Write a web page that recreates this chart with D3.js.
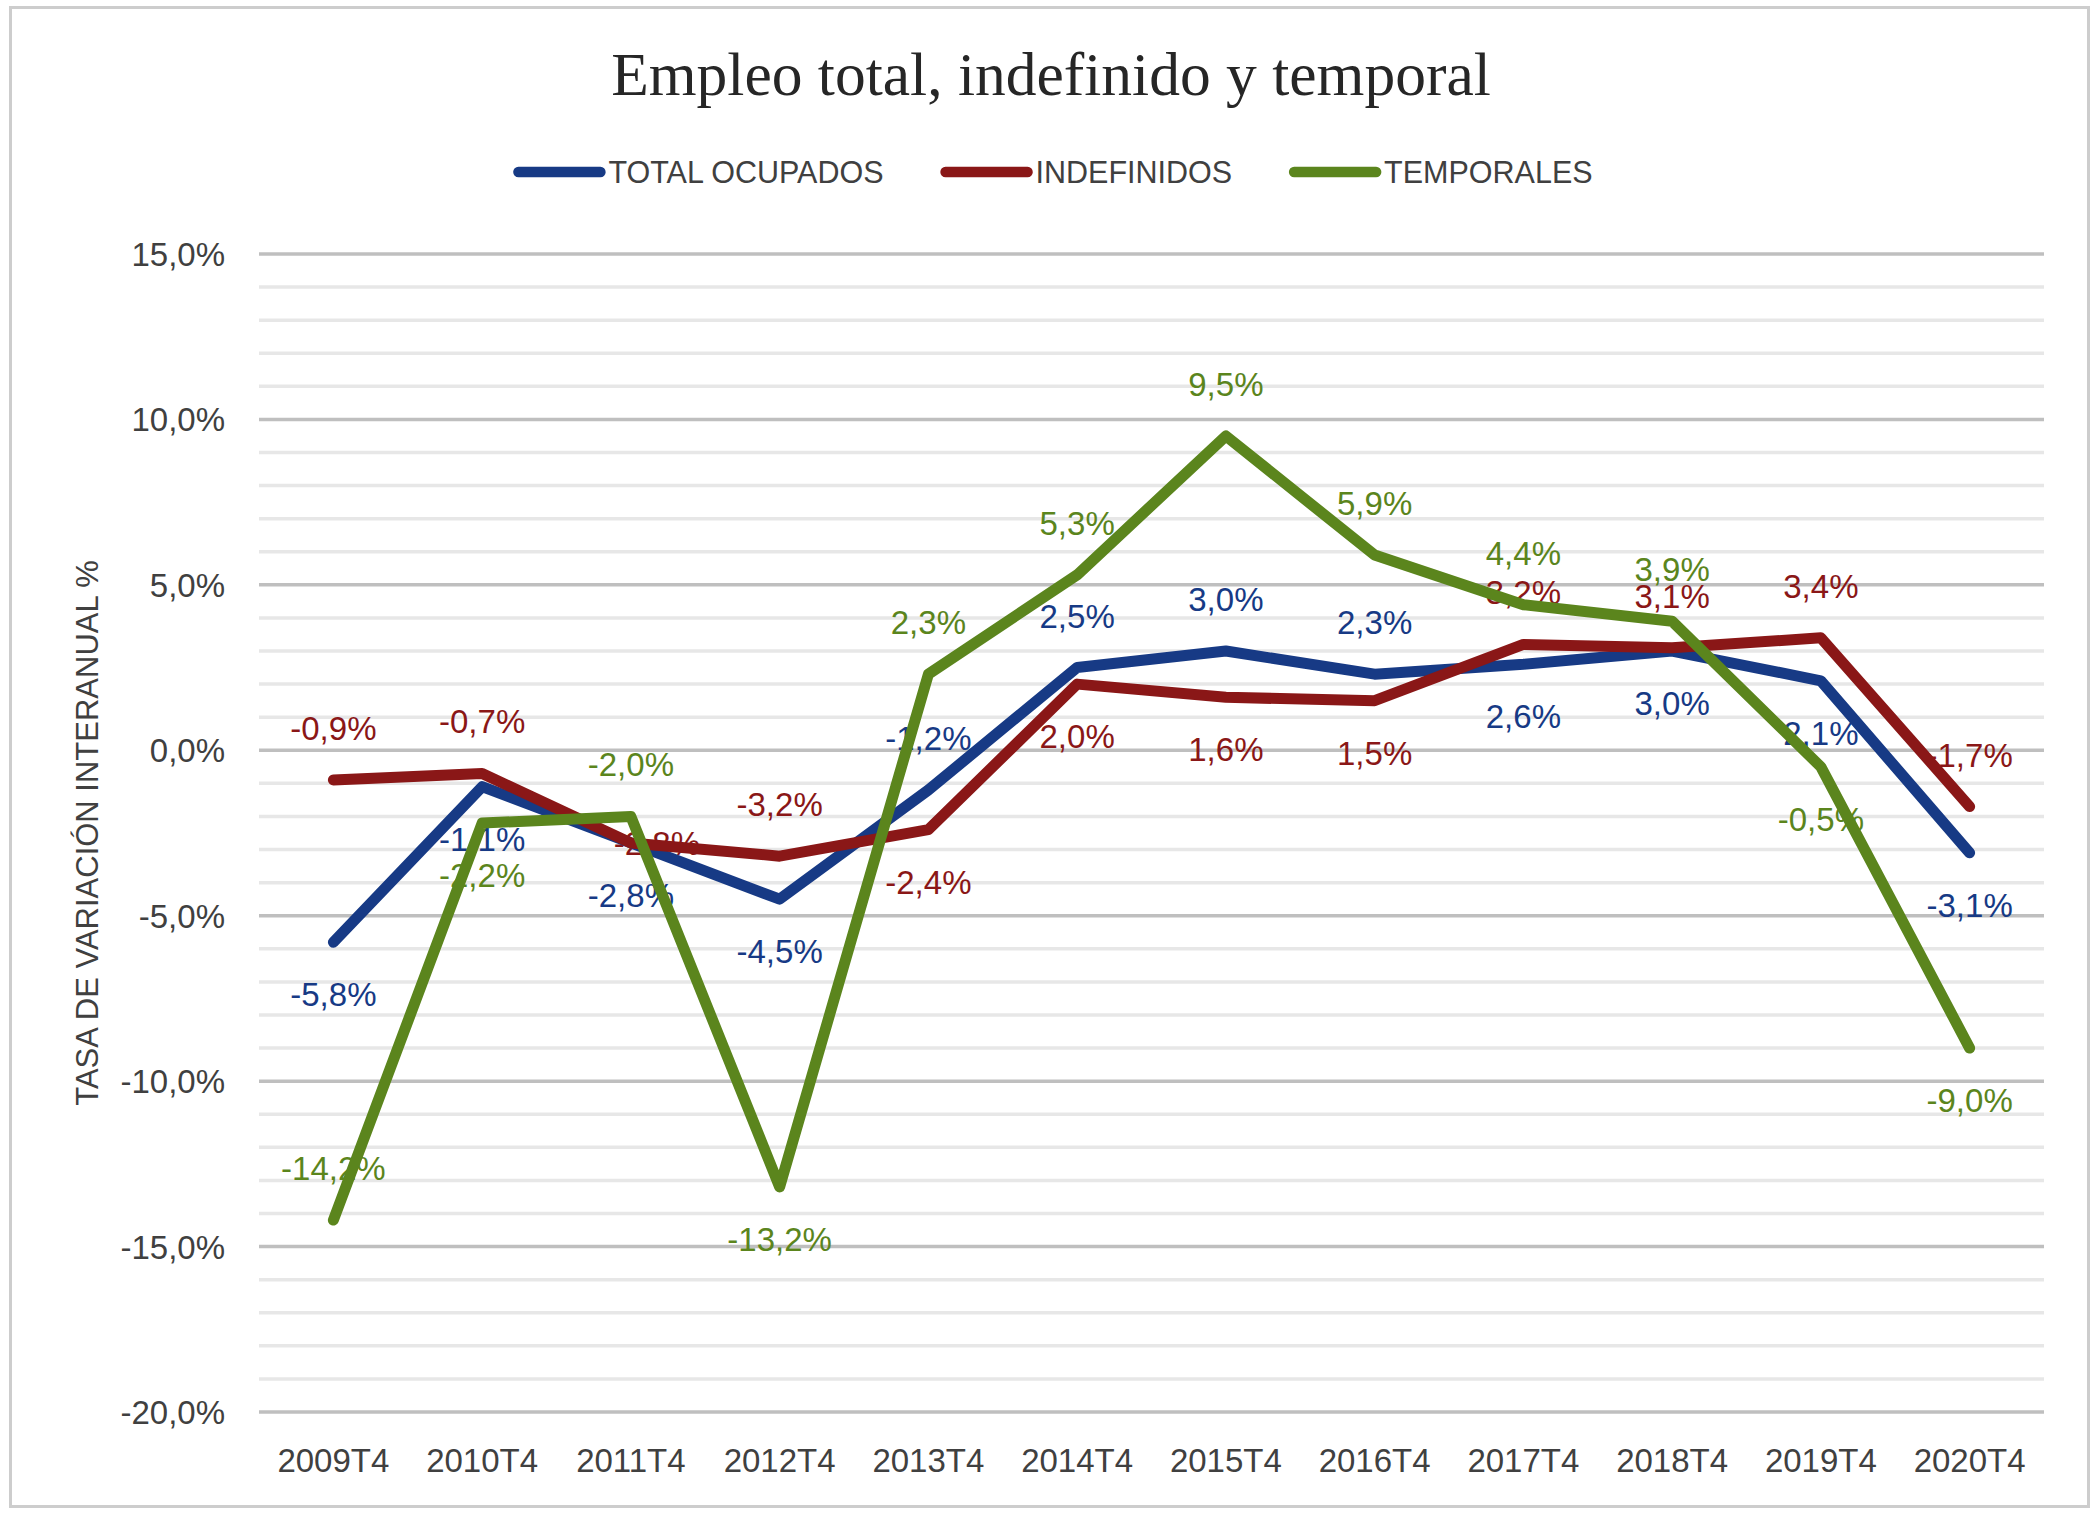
<!DOCTYPE html>
<html>
<head>
<meta charset="utf-8">
<script src="https://cdn.jsdelivr.net/npm/d3@7"></script>
<style>
  body { margin: 0; background: #fff; }
  svg { display: block; }
</style>
</head>
<body>
<svg></svg>
<script>
var width = 2097,
    height = 1519;

// data
var categories = ["2009T4", "2010T4", "2011T4", "2012T4", "2013T4", "2014T4",
                  "2015T4", "2016T4", "2017T4", "2018T4", "2019T4", "2020T4"];
var totalOcupados = [-5.8, -1.1, -2.8, -4.5, -1.2, 2.5, 3.0, 2.3, 2.6, 3.0, 2.1, -3.1];
var indefinidos   = [-0.9, -0.7, -2.8, -3.2, -2.4, 2.0, 1.6, 1.5, 3.2, 3.1, 3.4, -1.7];
var temporales    = [-14.2, -2.2, -2.0, -13.2, 2.3, 5.3, 9.5, 5.9, 4.4, 3.9, -0.5, -9.0];
var seriesNames = ["TOTAL OCUPADOS", "INDEFINIDOS", "TEMPORALES"];
var yTicks = [15, 10, 5, 0, -5, -10, -15, -20];

// label placement: a = above, b = below, r = right of point
var labelPlacement = [
    ["b","b","b","b","a","a","a","a","b","b","b","b"],
    ["a","a","r","a","b","b","b","b","a","a","a","a"],
    ["a","b","a","b","a","a","a","a","a","a","b","b"]
];

var colors = ["#173a85", "#8a1717", "#5b851d"];
var textColor = "#404040";
var font = "'Liberation Sans', Arial, sans-serif";

var svg = d3.select("svg")
    .attr("width", width)
    .attr("height", height);

svg.append("rect")
    .attr("x", 10.5).attr("y", 7.5)
    .attr("width", 2078).attr("height", 1499)
    .attr("fill", "#fff")
    .attr("stroke", "#cdcdcd")
    .attr("stroke-width", 3);

var plot = {left: 259, right: 2044, top: 254, bottom: 1412};

var x = d3.scaleBand()
    .domain(categories)
    .range([plot.left, plot.right]);

var y = d3.scaleLinear()
    .domain([-20, 15])
    .range([plot.bottom, plot.top]);

function cx(d) { return x(d) + x.bandwidth() / 2; }
function fmt(v) { return v.toFixed(1).replace(".", ",") + "%"; }

///////////////////////
// gridlines
///////////////////////

svg.append("g").selectAll("line")
    .data(d3.range(-20, 16).filter(function(d) { return d % 5 != 0; }))
    .enter()
    .append("line")
    .attr("x1", plot.left).attr("x2", plot.right)
    .attr("y1", function(d) { return y(d); })
    .attr("y2", function(d) { return y(d); })
    .attr("stroke", "#e7e7e7")
    .attr("stroke-width", 3.5);

svg.append("g").selectAll("line")
    .data(yTicks)
    .enter()
    .append("line")
    .attr("x1", plot.left).attr("x2", plot.right)
    .attr("y1", function(d) { return y(d); })
    .attr("y2", function(d) { return y(d); })
    .attr("stroke", "#bfbfbf")
    .attr("stroke-width", 3.5);

///////////////////////
// axes labels
///////////////////////

svg.append("g").selectAll("text")
    .data(yTicks)
    .enter()
    .append("text")
    .attr("x", 225)
    .attr("y", function(d) { return y(d) + 12; })
    .attr("text-anchor", "end")
    .attr("font-family", font)
    .attr("font-size", 33)
    .attr("fill", textColor)
    .text(fmt);

svg.append("g").selectAll("text")
    .data(categories)
    .enter()
    .append("text")
    .attr("x", cx)
    .attr("y", 1472)
    .attr("text-anchor", "middle")
    .attr("font-family", font)
    .attr("font-size", 33)
    .attr("fill", textColor)
    .text(function(d) { return d; });

svg.append("text")
    .attr("transform", "translate(98," + (plot.top + plot.bottom) / 2 + ") rotate(-90)")
    .attr("text-anchor", "middle")
    .attr("font-family", font)
    .attr("font-size", 31)
    .attr("fill", textColor)
    .text("TASA DE VARIACIÓN INTERANUAL %");

///////////////////////
// title + legend
///////////////////////

svg.append("text")
    .attr("x", 1051)
    .attr("y", 95)
    .attr("text-anchor", "middle")
    .attr("font-family", "'Liberation Serif', 'Times New Roman', serif")
    .attr("font-size", 61.5)
    .attr("fill", "#262626")
    .text("Empleo total, indefinido y temporal");

var legend = svg.append("g");
var lx = 0;
seriesNames.forEach(function(name, i) {
    var item = legend.append("g").attr("transform", "translate(" + lx + ",0)");
    item.append("line")
        .attr("x1", 5).attr("x2", 87)
        .attr("y1", 0).attr("y2", 0)
        .attr("stroke", colors[i])
        .attr("stroke-width", 10.5)
        .attr("stroke-linecap", "round");
    var t = item.append("text")
        .attr("x", 95)
        .attr("y", 11)
        .attr("font-family", font)
        .attr("font-size", 30.5)
        .attr("fill", textColor)
        .text(name);
    lx += 95 + t.node().getComputedTextLength() + 57;
});
lx -= 57;
legend.attr("transform", "translate(" + (1053 - lx / 2) + ",172)");

///////////////////////
// data labels + lines
///////////////////////

var allSeries = [totalOcupados, indefinidos, temporales];

allSeries.forEach(function(values, s) {
    svg.append("g").selectAll("text")
        .data(values)
        .enter()
        .append("text")
        .attr("x", function(d, i) {
            return cx(categories[i]) + (labelPlacement[s][i] == "r" ? 26 : 0);
        })
        .attr("y", function(d, i) {
            var p = labelPlacement[s][i];
            var off = p == "a" ? -52 : (p == "b" ? 52 : 0);
            return y(d) + off + 12;
        })
        .attr("text-anchor", "middle")
        .attr("font-family", font)
        .attr("font-size", 33)
        .attr("fill", colors[s])
        .text(fmt);
});

var line = d3.line()
    .x(function(d, i) { return cx(categories[i]); })
    .y(function(d) { return y(d); });

allSeries.forEach(function(values, s) {
    svg.append("path")
        .datum(values)
        .attr("d", line)
        .attr("fill", "none")
        .attr("stroke", colors[s])
        .attr("stroke-width", 11)
        .attr("stroke-linecap", "round")
        .attr("stroke-linejoin", "round");
});
</script>
</body>
</html>
